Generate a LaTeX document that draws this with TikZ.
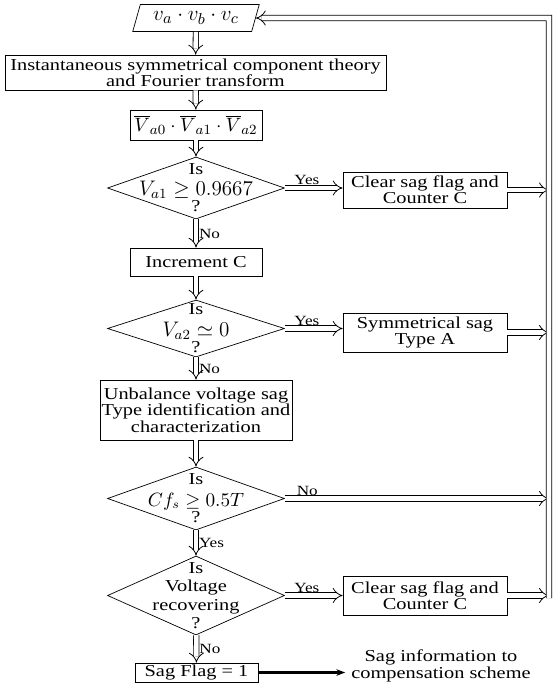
\documentclass[tikz,border=0pt]{standalone}
\usepackage{fontspec}
\setmainfont{Liberation Serif}[FakeStretch=1.22]
\usetikzlibrary{shapes.geometric,arrows.meta,positioning}
\begin{document}
\begin{tikzpicture}[
    x=0.02cm, y=-0.02cm,
    font=\fontsize{9.5}{9.3}\selectfont,
    block/.style={rectangle, draw, align=center, inner sep=1pt},
    decision/.style={diamond, draw, minimum width=3.54cm, inner sep=0pt},
    ask/.style={align=center, font=\fontsize{9.5}{10.5}\selectfont},
    io/.style={trapezium, draw, trapezium stretches=true, trapezium left angle=66, trapezium right angle=114, minimum width=2.54cm, minimum height=0.54cm, inner sep=0pt},
    dbl/.style={draw, double, double distance=2.6pt, line width=0.45pt},
    flow/.style={dbl, -{Implies[length=5pt, width=10pt]}},
    tag/.style={font=\fontsize{8}{8}\selectfont, inner sep=1.5pt}
]
    \useasboundingbox (0,0) rectangle (555,686);

    \node[io, font=\fontsize{13}{13}\selectfont] (vin) at (196,18) {$v_a\cdot v_b\cdot v_c$};
    \node[block, minimum width=7.62cm, minimum height=0.7cm] (isc) at (195.5,72.5) {Instantaneous symmetrical component theory\\and Fourier transform};
    \node[block, minimum width=2.64cm, minimum height=0.6cm, font=\fontsize{11}{11}\selectfont] (seq) at (196,125) {$\overline{V}_{a0}\cdot\overline{V}_{a1}\cdot\overline{V}_{a2}$};
    \node[decision, minimum height=1.24cm, label={[ask]center:{Is\\[1pt]{\fontsize{11.5}{10.5}\selectfont$V_{a1}\geq 0.9667$}\\[-1pt]?}}] (d1) at (196,188) {};
    \node[block, minimum width=3.28cm, minimum height=0.72cm] (clr1) at (425,190) {Clear sag flag and\\Counter C};
    \node[block, minimum width=2.64cm, minimum height=0.56cm] (inc) at (196,262) {Increment C};
    \node[decision, minimum height=1.14cm, label={[ask]center:{Is\\[1.5pt]{\fontsize{11.5}{10.5}\selectfont$V_{a2}\simeq 0$}\\[-1pt]?}}] (d2) at (196,328.5) {};
    \node[block, minimum width=3.28cm, minimum height=0.78cm] (sym) at (425,332.5) {Symmetrical sag\\Type A};
    \node[block, minimum width=2.96cm, minimum height=1.2cm] (unb) at (196,410) {Unbalance voltage sag\\Type identification and\\characterization};
    \node[decision, minimum height=1.26cm, label={[ask]center:{Is\\[1.5pt]{\fontsize{10.5}{10.5}\selectfont$Cf_s\geq 0.5T$}\\[-1pt]?}}] (d3) at (196,498.5) {};
    \node[decision, minimum height=1.58cm, label={[ask]center:{Is\\Voltage\\recovering\\?}}] (d4) at (196,595.5) {};
    \node[block, minimum width=3.28cm, minimum height=0.78cm] (clr2) at (425,595.5) {Clear sag flag and\\Counter C};
    \node[block, minimum width=2.46cm, minimum height=0.38cm] (flag) at (196.5,672.5) {Sag Flag = 1};
    \node[align=center] (info) at (441,666) {Sag information to\\compensation scheme};
    \coordinate (bustop) at (549,18);
    \coordinate (busbot) at (549,598);

    \draw[flow] (vin) -- (isc);
    \draw[flow] (isc) -- (seq);
    \draw[flow] (seq) -- (d1);
    \draw[flow] (d1.east) -- node[tag, above, pos=0.38] {Yes} (d1.east -| clr1.west);
    \draw[flow] (d1) -- node[tag, right] {No} (inc);
    \draw[flow] (inc) -- (d2);
    \draw[flow] (d2.east) -- node[tag, above, pos=0.38] {Yes} (d2.east -| sym.west);
    \draw[flow] (d2) -- node[tag, right] {No} (unb);
    \draw[flow] (unb) -- (d3);
    \draw[flow] (d3.east) -- node[tag, above, pos=0.085] {No} (d3.east -| bustop);
    \draw[flow] (d3) -- node[tag, right] {Yes} (d4);
    \draw[flow] (d4.east) -- node[tag, above, pos=0.38] {Yes} (d4.east -| clr2.west);
    \draw[flow] (d4) -- node[tag, right] {No} (flag);
    \draw[flow] (clr1.east) -- (clr1.east -| bustop);
    \draw[flow] (sym.east) -- (sym.east -| bustop);
    \draw[flow] (clr2.east) -- (clr2.east -| bustop);
    \draw[flow] (busbot) -- (bustop) -- (vin.east);
    \draw[line width=1.2pt, -{Stealth[length=5pt]}] (flag) -- (flag -| info.west);
\end{tikzpicture}
\end{document}
